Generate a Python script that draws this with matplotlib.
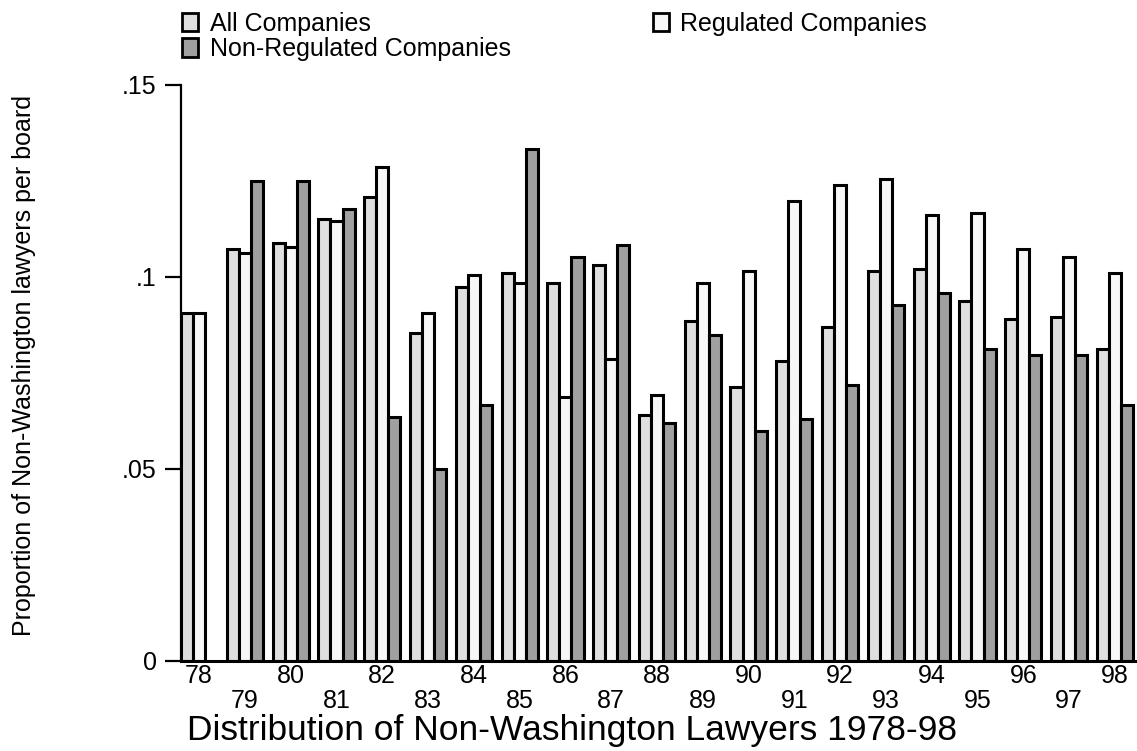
import matplotlib
matplotlib.use('Agg')
import matplotlib.pyplot as plt
from matplotlib.patches import Patch
import numpy as np

plt.rcParams['font.family'] = ['Liberation Sans', 'DejaVu Sans']

years = ['78', '79', '80', '81', '82', '83', '84', '85', '86', '87', '88',
         '89', '90', '91', '92', '93', '94', '95', '96', '97', '98']
all_cos = [0.0905, 0.1073, 0.1089, 0.1151, 0.1208, 0.0854, 0.0975, 0.1010, 0.0984, 0.1031, 0.0641,
           0.0885, 0.0713, 0.0781, 0.0870, 0.1016, 0.1021, 0.0938, 0.0891, 0.0896, 0.0813]
regulated = [0.0905, 0.1063, 0.1078, 0.1146, 0.1287, 0.0906, 0.1005, 0.0984, 0.0688, 0.0786, 0.0693,
             0.0984, 0.1016, 0.1198, 0.1240, 0.1255, 0.1161, 0.1167, 0.1073, 0.1052, 0.1010]
nonreg = [np.nan, 0.1250, 0.1250, 0.1177, 0.0635, 0.0500, 0.0666, 0.1333, 0.1052, 0.1083, 0.0620,
          0.0849, 0.0599, 0.0630, 0.0718, 0.0927, 0.0958, 0.0813, 0.0797, 0.0797, 0.0667]

c_all = '#dfdfdf'
c_reg = '#f7f7f7'
c_non = '#a0a0a0'

fig = plt.figure(figsize=(11.37, 7.51), dpi=100)
ax = fig.add_axes([181/1137, 90/751, 956/1137, 576/751])

x = np.arange(len(years))
w = 0.264
ax.bar(x - w, all_cos, w, color=c_all, edgecolor='black', linewidth=2.2)
ax.bar(x, regulated, w, color=c_reg, edgecolor='black', linewidth=2.2)
ax.bar(x + w, nonreg, w, color=c_non, edgecolor='black', linewidth=2.2)

ax.set_xlim(-1.5*w, 20 + 1.5*w + 4/45.8)
ax.set_ylim(0, 0.15)

ax.spines['top'].set_visible(False)
ax.spines['right'].set_visible(False)
ax.spines['left'].set_linewidth(1.6)
ax.spines['bottom'].set_linewidth(2.2)

ax.set_yticks([0, 0.05, 0.1, 0.15])
ax.set_yticklabels(['0', '.05', '.1', '.15'])
ax.tick_params(axis='y', length=11.5, width=1.6, labelsize=18, pad=6)

# even years on the upper row, odd years below
ax.set_xticks(x[::2])
ax.set_xticklabels(years[::2])
ax.set_xticks(x[1::2], minor=True)
ax.set_xticklabels(years[1::2], minor=True)
ax.tick_params(axis='x', which='major', length=0, labelsize=18, pad=2)
ax.tick_params(axis='x', which='minor', length=0, labelsize=18, pad=20)

fig.text(572/1137, 11/751, 'Distribution of Non-Washington Lawyers 1978-98',
         fontsize=25.5, ha='center', va='baseline')
fig.text(24/1137, 1 - 365/751, 'Proportion of Non-Washington lawyers per board',
         fontsize=18, rotation=90, ha='center', va='center')

handles = [Patch(facecolor=c_all, edgecolor='black', linewidth=2),
           Patch(facecolor=c_non, edgecolor='black', linewidth=2),
           Patch(facecolor=c_reg, edgecolor='black', linewidth=2)]
labels = ['All Companies', 'Non-Regulated Companies', 'Regulated Companies']
fig.legend(handles, labels, ncol=2, loc='upper left', bbox_to_anchor=(182/1137, 1 - 12/751),
           frameon=False, fontsize=18, handlelength=0.65, handleheight=0.75,
           handletextpad=0.45, columnspacing=5.7, labelspacing=0.05,
           borderpad=0, borderaxespad=0)

fig.savefig('out.png', dpi=100)
